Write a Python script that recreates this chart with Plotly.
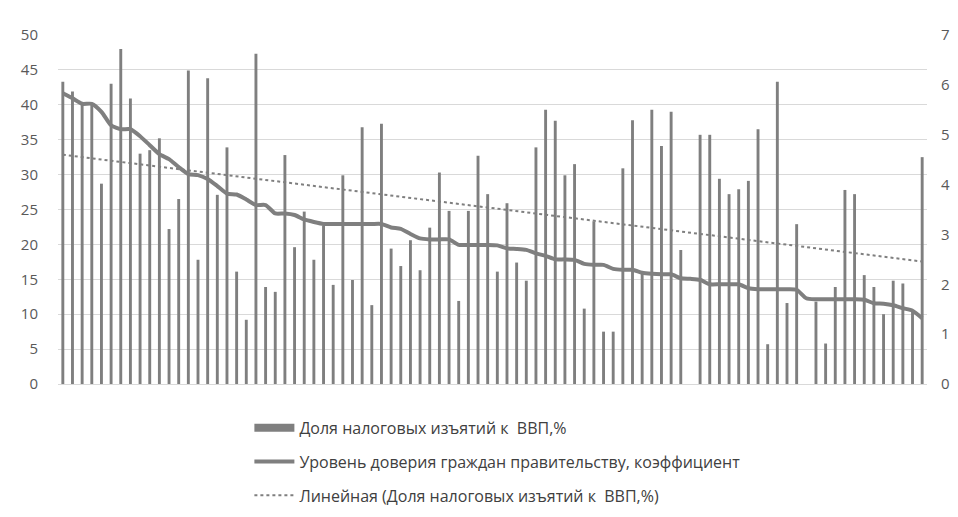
import numpy as np
import plotly.graph_objects as go

# category index (countries, no labels on axis)
categories = list(range(1, 91))

tax_share = [43.3, 41.9, 40.0, 40.0, 28.7, 43.0, 48.0, 40.9, 33.0, 33.5,
             35.2, 22.2, 26.5, 44.9, 17.8, 43.8, 27.1, 33.9, 16.1, 9.2,
             47.3, 13.9, 13.2, 32.8, 19.6, 24.7, 17.8, 22.7, 14.2, 29.9,
             14.9, 36.8, 11.3, 37.3, 19.4, 16.9, 20.6, 16.3, 22.4, 30.3,
             24.8, 11.9, 24.8, 32.7, 27.2, 16.1, 25.9, 17.4, 14.8, 33.9,
             39.3, 37.7, 29.9, 31.5, 10.8, 23.3, 7.5, 7.5, 30.9, 37.8,
             16.0, 39.3, 34.1, 39.0, 19.2, 0.0, 35.7, 35.7, 29.4, 27.2,
             27.9, 29.1, 36.5, 5.7, 43.3, 11.6, 22.9, 0.0, 11.8, 5.8,
             13.9, 27.8, 27.2, 15.6, 13.9, 10.0, 14.8, 14.4, 10.6, 32.5]

trust = [5.83, 5.73, 5.62, 5.62, 5.46, 5.19, 5.11, 5.11, 4.97, 4.79,
         4.61, 4.51, 4.35, 4.21, 4.19, 4.11, 3.97, 3.82, 3.80, 3.70,
         3.59, 3.59, 3.42, 3.42, 3.39, 3.30, 3.25, 3.21, 3.21, 3.21,
         3.21, 3.21, 3.21, 3.21, 3.14, 3.11, 3.01, 2.92, 2.90, 2.90,
         2.90, 2.79, 2.79, 2.79, 2.79, 2.78, 2.72, 2.71, 2.69, 2.62,
         2.57, 2.50, 2.50, 2.49, 2.41, 2.39, 2.39, 2.31, 2.29, 2.29,
         2.23, 2.21, 2.20, 2.20, 2.12, 2.11, 2.09, 2.00, 2.00, 2.00,
         2.00, 1.92, 1.90, 1.90, 1.90, 1.90, 1.89, 1.72, 1.70, 1.70,
         1.70, 1.70, 1.70, 1.69, 1.62, 1.61, 1.58, 1.52, 1.47, 1.32]

left_ticks = [0, 5, 10, 15, 20, 25, 30, 35, 40, 45, 50]
right_ticks = [0, 1, 2, 3, 4, 5, 6, 7]

name_bar = "Доля налоговых изъятий к  ВВП,%"
name_line = "Уровень доверия граждан правительству, коэффициент"
name_trend = "Линейная (Доля налоговых изъятий к  ВВП,%)"

# linear trendline (least squares over all categories, like Excel)
xs = np.array(categories, float)
ys = np.array(tax_share, float)
k, b = np.polyfit(xs, ys, 1)
trend = [k * c + b for c in categories]

GRAY = "#7f7f7f"
fig = go.Figure()
fig.add_trace(go.Bar(x=categories, y=tax_share, name=name_bar, marker_color=GRAY,
                     marker_line_width=0, showlegend=False, yaxis="y"))
# legend entry for the bars (thick bar-like swatch)
fig.add_trace(go.Scatter(x=[None], y=[None], mode="lines", name=name_bar,
                         line=dict(color=GRAY, width=8), legendgroup="a"))
fig.add_trace(go.Scatter(x=categories, y=trust, name=name_line, mode="lines",
                         line=dict(color=GRAY, width=4, shape="spline", smoothing=0.6),
                         yaxis="y2", legendgroup="b"))
fig.add_trace(go.Scatter(x=categories, y=trend, name=name_trend, mode="lines",
                         line=dict(color=GRAY, width=2, dash="dot"),
                         yaxis="y", legendgroup="c"))

# the page body adds an 8px offset to the figure
W, H = 958, 517
ml, mr, mt, mb = 49.5, 39, 27, 139
pw, ph = W - ml - mr, H - mt - mb
fig.update_layout(
    width=W, height=H,
    margin=dict(l=ml, r=mr, t=mt, b=mb, pad=0),
    paper_bgcolor="white", plot_bgcolor="white",
    bargap=0.7,
    font=dict(family="Open Sans, Liberation Sans, sans-serif", color="#404040"),
    xaxis=dict(type="category", showticklabels=False, showgrid=False,
               showline=True, linecolor="#d9d9d9", linewidth=1, ticks="",
               range=[-0.5, len(categories) - 0.5]),
    yaxis=dict(range=[0, 50], tickvals=left_ticks, showgrid=True, gridcolor="#d9d9d9",
               gridwidth=1, zeroline=False, ticks="outside", ticklen=16,
               tickcolor="rgba(0,0,0,0)", tickfont=dict(size=15, color="#595959")),
    yaxis2=dict(range=[0, 7], tickvals=right_ticks, overlaying="y", side="right",
                showgrid=False, zeroline=False, ticks="outside", ticklen=10,
                tickcolor="rgba(0,0,0,0)", tickfont=dict(size=15, color="#595959")),
    legend=dict(x=(241 - ml) / pw, y=-(405 - (H - mb)) / ph,
                xanchor="left", yanchor="top", orientation="v",
                traceorder="grouped", tracegroupgap=10,
                font=dict(size=16, color="#404040"), bgcolor="rgba(0,0,0,0)",
                itemwidth=40),
)

fig.write_html("out.html")
